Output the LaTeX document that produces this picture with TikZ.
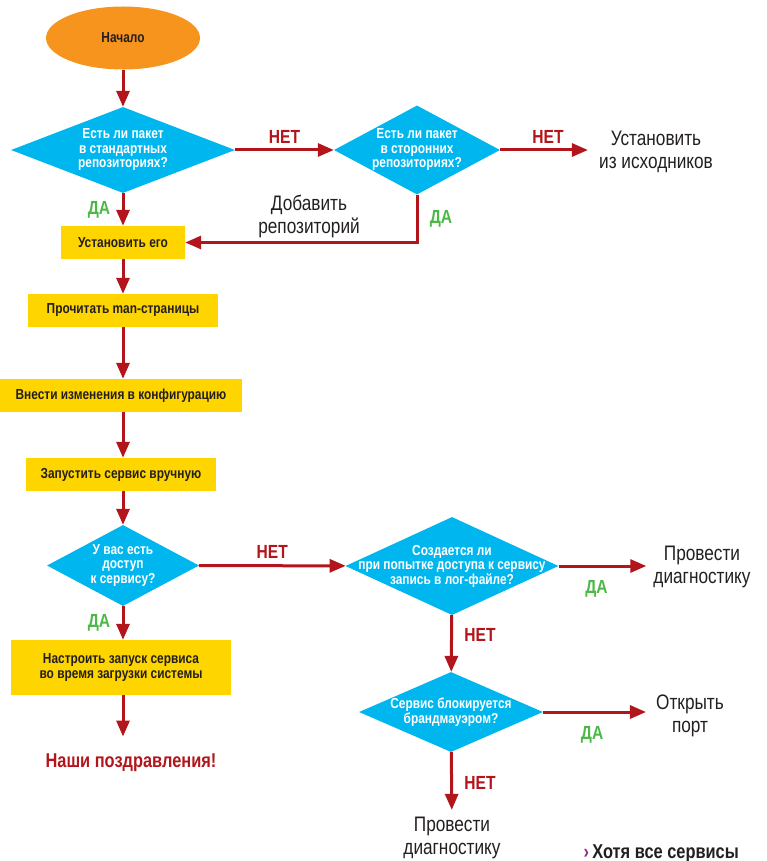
\documentclass[tikz,border=0pt]{standalone}
\usepackage{fontspec}
\setmainfont{Liberation Sans}[FakeStretch=0.82]
\usetikzlibrary{shapes.geometric, arrows.meta, positioning}

\definecolor{startColour}{HTML}{F7941E}
\definecolor{decisionColour}{HTML}{00B6EE}
\definecolor{actionColour}{HTML}{FFD500}
\definecolor{arrowColour}{HTML}{B2151B}
\definecolor{yesColour}{HTML}{4CB848}
\definecolor{textColour}{HTML}{231F20}
\definecolor{noteColour}{HTML}{92278F}

\begin{document}
\begin{tikzpicture}[x=1pt, y=-1pt,
    startnode/.style={ellipse, fill=startColour, minimum width=154pt, minimum height=63pt,
        font=\fontsize{14.5}{15}\selectfont\bfseries, text=textColour},
    decision/.style={diamond, fill=decisionColour, inner sep=0pt},
    qtext/.style={align=center, text=white, font=\fontsize{14.5}{14.5}\selectfont\bfseries},
    action/.style={rectangle, fill=actionColour, minimum height=33pt, align=center,
        font=\fontsize{14.5}{15}\selectfont\bfseries, text=textColour},
    result/.style={align=center, inner sep=3pt, text=textColour, font=\fontsize{21}{23}\selectfont},
    final/.style={text=arrowColour, font=\fontsize{20}{21}\selectfont\bfseries},
    no/.style={text=arrowColour, font=\fontsize{19}{20}\selectfont\bfseries},
    yes/.style={text=yesColour, font=\fontsize{19}{20}\selectfont\bfseries},
    flow/.style={draw=arrowColour, line width=3pt, -{Triangle[length=16pt, width=13pt]}}]

    % Page size
    \useasboundingbox (0,0) rectangle (766,861);

    % Install the package
    \node[startnode] (start) at (123,38) {Начало};
    \node[decision, minimum width=224pt, minimum height=86pt] (std) at (123,150) {};
    \node[qtext] at (std) {Есть ли пакет\\в стандартных\\репозиториях?};
    \node[decision, minimum width=166pt, minimum height=89pt] (third) at (417,150) {};
    \node[qtext] at (third) {Есть ли пакет\\в сторонних\\репозиториях?};
    \node[result] (source) at (656,152) {Установить\\из исходников};
    \node[action, minimum width=124pt] (install) at (123,242.5) {Установить его};
    \node[result] (addrepo) at (309,216) {Добавить\\репозиторий};

    % Configure and run
    \node[action, minimum width=190pt] (man) at (123,310.5) {Прочитать man-страницы};
    \node[action, minimum width=242pt] (config) at (121,395.5) {Внести изменения в конфигурацию};
    \node[action, minimum width=190pt] (run) at (121,474.5) {Запустить сервис вручную};
    \node[decision, minimum width=152pt, minimum height=81pt] (access) at (123,565.5) {};
    \node[qtext] at (access) {У вас есть\\доступ\\к сервису?};
    \node[action, minimum width=220pt, minimum height=55pt] (boot) at (121,667.5) {Настроить запуск сервиса\\во время загрузки системы};
    \node[final] (done) at (131,763) {Наши поздравления!};

    % Troubleshooting
    \node[decision, minimum width=213pt, minimum height=98pt] (log) at (452,566) {};
    \node[qtext] at (log) {Создается ли\\при попытке доступа к сервису\\запись в лог-файле?};
    \node[result] (diag) at (702,567) {Провести\\диагностику};
    \node[decision, minimum width=184pt, minimum height=80pt] (firewall) at (451,712) {};
    \node[qtext] at (firewall) {Сервис блокируется\\брандмауэром?};
    \node[result] (port) at (690,716) {Открыть\\порт};
    \node[result] (diag2) at (452,838) {Провести\\диагностику};
    \node[anchor=base west, font=\fontsize{20}{20}\selectfont\bfseries, text=textColour] (more) at (580,858)
        {\textcolor{noteColour}{›}\,Хотя все сервисы};

    % Arrows
    \draw[flow] (start) -- (std);
    \draw[flow] (std) -- node[no, above=2pt] {НЕТ} (third);
    \draw[flow, shorten >=8pt] (third) -- node[no, above=2pt] {НЕТ} (third.east -| source.west);
    \draw[flow] (std) -- node[yes, left=8pt] {ДА} (install);
    \draw[flow] (third.south) |- node[yes, pos=0.25, right=8pt] {ДА} (install.east);
    \draw[flow] (install) -- (install |- man.north);
    \draw[flow] (install |- man.south) -- (install |- config.north);
    \draw[flow] (install |- config.south) -- (install |- run.north);
    \draw[flow] (install |- run.south) -- (access);
    \draw[flow] (access) -- node[no, above=2pt] {НЕТ} (log);
    \draw[flow] (access) -- node[yes, left=8pt] {ДА} (access |- boot.north);
    \draw[flow, shorten >=14pt] (access |- boot.south) -- (access |- done.north);
    \draw[flow, shorten >=4pt] (log) -- node[yes, below=10pt, xshift=-8pt] {ДА} (log.east -| diag.west);
    \draw[flow] (log) -- node[no, right=8pt, pos=0.35] {НЕТ} (firewall);
    \draw[flow, shorten >=7pt] (firewall) -- node[yes, below=10pt, xshift=-6pt] {ДА} (firewall.east -| port.west);
    \draw[flow, shorten >=4pt] (firewall) -- node[no, right=8pt] {НЕТ} (diag2);
\end{tikzpicture}
\end{document}
